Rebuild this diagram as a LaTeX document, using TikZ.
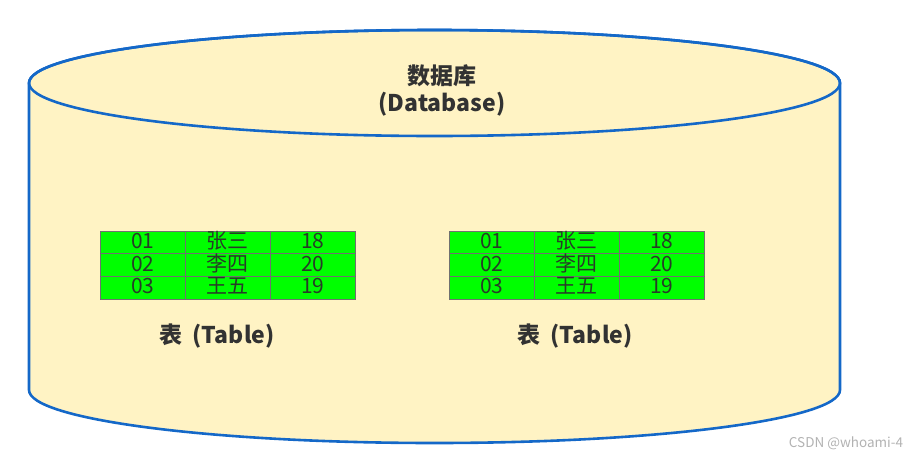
\documentclass[tikz,border=0pt]{standalone}
\usepackage{fontspec}
\setmainfont{Noto Sans CJK SC}
\usetikzlibrary{matrix}
\definecolor{dbblue}{RGB}{20,104,200}
\definecolor{dbfill}{RGB}{255,243,196}
\definecolor{cellgreen}{RGB}{0,255,0}
\definecolor{cellline}{RGB}{112,112,112}
\definecolor{celltext}{RGB}{40,60,40}
\definecolor{labeltext}{RGB}{50,50,50}
\tikzset{
  cell/.style={draw=cellline, line width=1pt, fill=cellgreen, minimum width=85pt, minimum height=22.7pt, text height=15pt, text depth=3pt, inner sep=0pt, anchor=center, text=celltext, font=\fontsize{21pt}{21pt}\selectfont},
  tbl/.style={matrix of nodes, nodes={cell}, column sep=-1pt, row sep=-1pt, inner sep=0pt, anchor=north west},
  lbl/.style={text=labeltext, font=\fontsize{23pt}{27pt}\selectfont\bfseries, align=center}
}
\begin{document}
\begin{tikzpicture}[x=1pt,y=-1pt]
\useasboundingbox (0,0) rectangle (921,461);
% cylinder body
\path[fill=dbfill, draw=dbblue, line width=2.6pt]
  (29,83) -- (29,390) arc[start angle=180, end angle=360, x radius=405.5, y radius=-53] -- (840,83)
  arc[start angle=0, end angle=180, x radius=405.5, y radius=-53] -- cycle;
\draw[dbblue, line width=2.6pt] (434.5,83) ellipse[x radius=405.5, y radius=53];
\node[lbl] (db) at (442,90) {数据库\\(Database)};
% tables
\matrix[tbl] (ta) at (99.5,230.5) {
  01 & 张三 & 18 \\
  02 & 李四 & 20 \\
  03 & 王五 & 19 \\
};
\matrix[tbl] (tb) at (448.5,230.5) {
  01 & 张三 & 18 \\
  02 & 李四 & 20 \\
  03 & 王五 & 19 \\
};
\node[lbl] (la) at (217,336) {表\;\,(Table)};
\node[lbl] (lb) at (575,336) {表\;\,(Table)};
\node[text=black!30, font=\fontsize{13.5pt}{14pt}\selectfont] (wm) at (846,443) {CSDN @whoami-4};
\end{tikzpicture}
\end{document}
